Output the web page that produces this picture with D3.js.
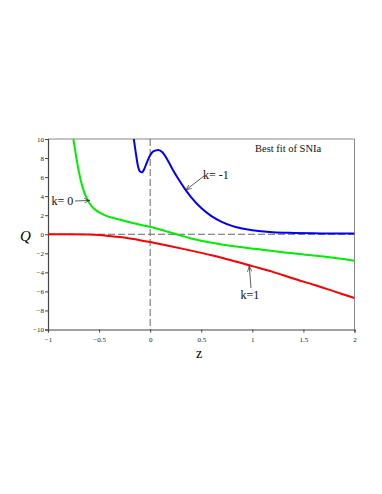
<!DOCTYPE html>
<html>
<head>
<meta charset="utf-8">
<script src="https://cdn.jsdelivr.net/npm/d3@7"></script>
<style>
  body { margin: 0; background: #fff; }
  svg { display: block; }
  text { font-family: "Liberation Serif", "DejaVu Serif", serif; }
</style>
</head>
<body>
<svg id="chart"></svg>
<script>
// curve samples (z, Q)
var blueZ = [-0.16, -0.14, -0.12, -0.10, -0.08, -0.06, -0.03, 0, 0.03, 0.08, 0.12, 0.17, 0.22, 0.3, 0.35, 0.4, 0.5, 0.6, 0.7, 0.8, 0.9, 1.0, 1.2, 1.4, 1.6, 1.8, 2.0];
var blueQ = [10, 8.5, 7.2, 6.6, 6.5, 6.8, 7.6, 8.3, 8.7, 8.85, 8.6, 7.8, 6.8, 5.4, 4.6, 3.9, 2.75, 1.9, 1.3, 0.88, 0.6, 0.42, 0.22, 0.14, 0.1, 0.08, 0.07];

var greenZ = [-0.752, -0.725, -0.696, -0.66, -0.615, -0.556, -0.458, -0.294, -0.098, 0.007, 0.16, 0.29, 0.39, 0.72, 1.05, 1.37, 1.7, 2.0];
var greenQ = [10, 8.2, 6.45, 4.87, 3.64, 2.76, 2.06, 1.53, 1.0, 0.76, 0.3, -0.1, -0.42, -1.1, -1.56, -1.98, -2.34, -2.78];

var redZ = [-1, -0.8, -0.6, -0.5, -0.4, -0.3, -0.2, -0.1, 0, 0.2, 0.4, 0.6, 0.8, 1.0, 1.2, 1.4, 1.6, 1.8, 2.0];
var redQ = [0, 0, -0.02, -0.07, -0.18, -0.3, -0.45, -0.62, -0.82, -1.25, -1.72, -2.2, -2.75, -3.35, -3.95, -4.65, -5.3, -6.0, -6.7];

var xTicks = [-1, -0.5, 0, 0.5, 1, 1.5, 2];
var yTicks = [-10, -8, -6, -4, -2, 0, 2, 4, 6, 8, 10];

var title = "Best fit of SNIa";

function zip(zs, qs) {
    return zs.map(function(z, i) { return { z: z, q: qs[i] }; });
}

var svgWidth = 382, svgHeight = 494;
var svg = d3.select("#chart").attr("width", svgWidth).attr("height", svgHeight);

var x = d3.scaleLinear().domain([-1, 2]).range([48, 354.5]);
var y = d3.scaleLinear().domain([-10, 10]).range([329.5, 139]);

// clip so curves stop at the frame
svg.append("clipPath").attr("id", "clip")
    .append("rect")
    .attr("x", x(-1)).attr("y", y(10))
    .attr("width", x(2) - x(-1)).attr("height", y(-10) - y(10));

// frame top and right
svg.append("path")
    .attr("d", "M" + x(-1) + "," + y(10) + "H" + x(2) + "V" + y(-10))
    .attr("fill", "none")
    .attr("stroke", "#888")
    .attr("stroke-width", 1);

// dashed zero lines
svg.append("line")
    .attr("x1", x(-1)).attr("x2", x(2))
    .attr("y1", y(0)).attr("y2", y(0))
    .attr("stroke", "#666").attr("stroke-width", 1)
    .attr("stroke-dasharray", "7,3");
svg.append("line")
    .attr("x1", x(0)).attr("x2", x(0))
    .attr("y1", y(10)).attr("y2", y(-10))
    .attr("stroke", "#666").attr("stroke-width", 1)
    .attr("stroke-dasharray", "7,3");

// axes
var xAxis = svg.append("g")
    .attr("transform", "translate(0," + y(-10) + ")")
    .call(d3.axisBottom(x).tickValues(xTicks).tickSize(3).tickFormat(d3.format("")));
var yAxis = svg.append("g")
    .attr("transform", "translate(" + x(-1) + ",0)")
    .call(d3.axisLeft(y).tickValues(yTicks).tickSize(3).tickFormat(d3.format("")));

[xAxis, yAxis].forEach(function(ax) {
    ax.select(".domain").attr("stroke", "#444").attr("stroke-width", 1.2);
    ax.selectAll(".tick line").attr("stroke", "#444");
    ax.selectAll(".tick text")
        .attr("fill", "#222")
        .style("font-family", "'Liberation Serif', serif")
        .style("font-size", "7px");
});
xAxis.selectAll(".tick text").attr("dy", "0.9em");
yAxis.selectAll(".tick text").attr("x", -4).attr("dy", "0.35em");

// curves
var line = d3.line()
    .x(function(d) { return x(d.z); })
    .y(function(d) { return y(d.q); })
    .curve(d3.curveMonotoneX);

var plot = svg.append("g").attr("clip-path", "url(#clip)");
var series = [
    { data: zip(greenZ, greenQ), color: "#00ee00" },
    { data: zip(redZ, redQ), color: "#ff0000" },
    { data: zip(blueZ, blueQ), color: "#0000ff" }
];
series.forEach(function(s) {
    plot.append("path")
        .datum(s.data)
        .attr("fill", "none")
        .attr("stroke", s.color)
        .attr("stroke-width", 2)
        .attr("stroke-linejoin", "round")
        .attr("d", line);
});

// arrow marker
svg.append("defs").append("marker")
    .attr("id", "arrow")
    .attr("viewBox", "0 0 10 10")
    .attr("refX", 10).attr("refY", 5)
    .attr("markerWidth", 7).attr("markerHeight", 7)
    .attr("orient", "auto")
    .append("path")
    .attr("d", "M0,1 L10,5 L0,9")
    .attr("fill", "none")
    .attr("stroke", "#333")
    .attr("stroke-width", 1.2);

function annotate(label, tx, ty, x1, y1, x2, y2) {
    svg.append("line")
        .attr("x1", x1).attr("y1", y1).attr("x2", x2).attr("y2", y2)
        .attr("stroke", "#333").attr("stroke-width", 0.8)
        .attr("marker-end", "url(#arrow)");
    svg.append("text")
        .attr("x", tx).attr("y", ty)
        .style("font-size", "12px")
        .attr("fill", "#111")
        .text(label);
}

annotate("k= 0", 51.5, 205, 75, 201, x(-0.59), y(3.55));
annotate("k= -1", 203, 179, 204, 176, x(0.35), y(4.65));
annotate("k=1", 240.5, 299, 251, 288, x(0.97), y(-3.35));

// title
svg.append("text")
    .attr("x", 255).attr("y", 152)
    .style("font-size", "10.5px")
    .attr("fill", "#111")
    .text(title);

// axis titles
svg.append("text")
    .attr("x", 20).attr("y", 241)
    .style("font-size", "15px")
    .style("font-style", "italic")
    .text("Q");
svg.append("text")
    .attr("x", 196).attr("y", 358)
    .style("font-size", "14px")
    .text("z");
</script>
</body>
</html>
